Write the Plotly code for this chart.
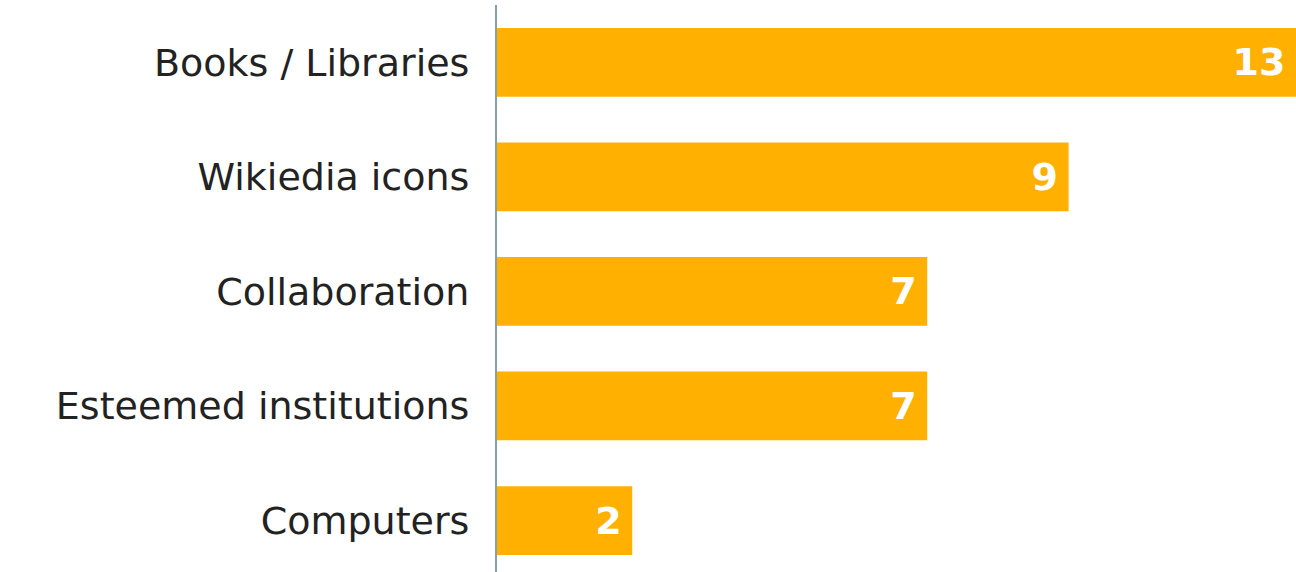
import plotly.graph_objects as go

categories = ["Books / Libraries", "Wikiedia icons", "Collaboration", "Esteemed institutions", "Computers"]
bar_lengths = [13, 9.3, 7, 7, 2.2]
value_labels = ["13", "9", "7", "7", "2"]

fig = go.Figure(go.Bar(
    x=bar_lengths,
    y=categories,
    orientation="h",
    marker=dict(color="#FFB000", line=dict(width=0)),
    width=0.6,
    text=value_labels,
    texttemplate="%{text}\u2009",
    textposition="inside",
    insidetextanchor="end",
    constraintext="none",
    textfont=dict(family="DejaVu Sans", size=38, color="white", weight="bold"),
    hoverinfo="skip",
))

fig.update_layout(
    width=1296, height=572,
    margin=dict(l=497, r=0, t=5, b=0, autoexpand=False),
    paper_bgcolor="white", plot_bgcolor="white",
    showlegend=False,
    xaxis=dict(range=[0, 13], visible=False, fixedrange=True),
    yaxis=dict(
        range=[4.449, -0.5],
        showline=True, linecolor="#8C9DAA", linewidth=2,
        showgrid=False, zeroline=False, ticks="",
        ticklabelstandoff=18,
        tickfont=dict(family="DejaVu Sans", size=38, color="#222222"),
        fixedrange=True,
    ),
)

fig.write_html(
    "out.html",
    config={"displayModeBar": False, "staticPlot": True},
    post_script="document.body.style.margin='0';document.body.style.overflow='hidden';",
)
